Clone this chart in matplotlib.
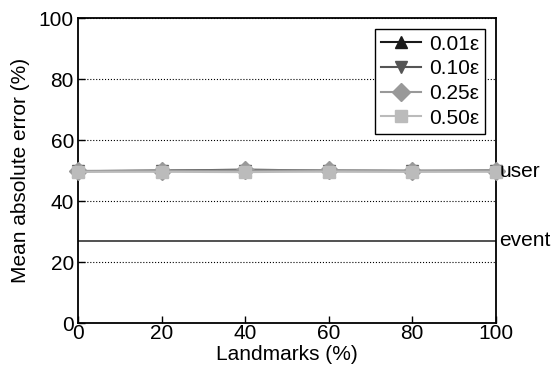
import matplotlib
matplotlib.use("Agg")
import matplotlib.pyplot as plt

plt.rcParams['font.family'] = ['Liberation Sans', 'DejaVu Sans']
plt.rcParams['font.size'] = 15

# data
landmarks = [0, 20, 40, 60, 80, 100]
err_001 = [49.8, 50.0, 50.3, 50.0, 49.9, 50.0]
err_010 = [49.8, 49.9, 49.9, 49.8, 49.8, 49.9]
err_025 = [49.9, 50.0, 50.1, 50.1, 50.0, 50.0]
err_050 = [49.6, 49.6, 49.5, 49.7, 49.6, 49.6]
event_baseline = 27.0

labels = ['0.01ε', '0.10ε', '0.25ε', '0.50ε']
colors = ['#1a1a1a', '#555555', '#999999', '#bbbbbb']
markers = ['^', 'v', 'D', 's']
sizes = [9, 9, 9, 9]

fig, ax = plt.subplots(figsize=(5.54, 3.77), dpi=100)
fig.subplots_adjust(left=0.141, right=0.895, top=0.952, bottom=0.143)

series = [err_001, err_010, err_025, err_050]
for ys, lab, c, m, s in zip(series, labels, colors, markers, sizes):
    ax.plot(landmarks, ys, color=c, marker=m, markersize=s, label=lab,
            linewidth=1.5, clip_on=False, zorder=3)

ax.axhline(event_baseline, color='#333333', linewidth=1.2)

ax.set_xlim(0, 100)
ax.set_ylim(0, 100)
ax.set_xticks([0, 20, 40, 60, 80, 100])
ax.set_yticks([0, 20, 40, 60, 80, 100])
ax.tick_params(direction='in', length=5, width=1)
ax.tick_params(axis='x', pad=1)
ax.tick_params(axis='y', pad=3)
ax.yaxis.grid(True, linestyle=':', color='black', linewidth=0.8)
for sp in ax.spines.values():
    sp.set_linewidth(1.3)

ax.set_xlabel('Landmarks (%)', labelpad=1)
ax.set_ylabel('Mean absolute error (%)', labelpad=6)

ax.text(1.008, 49.8, 'user', transform=ax.get_yaxis_transform(), va='center', ha='left')
ax.text(1.008, event_baseline, 'event', transform=ax.get_yaxis_transform(), va='center', ha='left')

leg = ax.legend(loc='upper right', fancybox=False, edgecolor='black',
                framealpha=1, handlelength=1.9, borderaxespad=0.5,
                labelspacing=0.27, handletextpad=0.4, borderpad=0.3)
leg.get_frame().set_linewidth(1.0)

fig.savefig("out.png", dpi=100)
